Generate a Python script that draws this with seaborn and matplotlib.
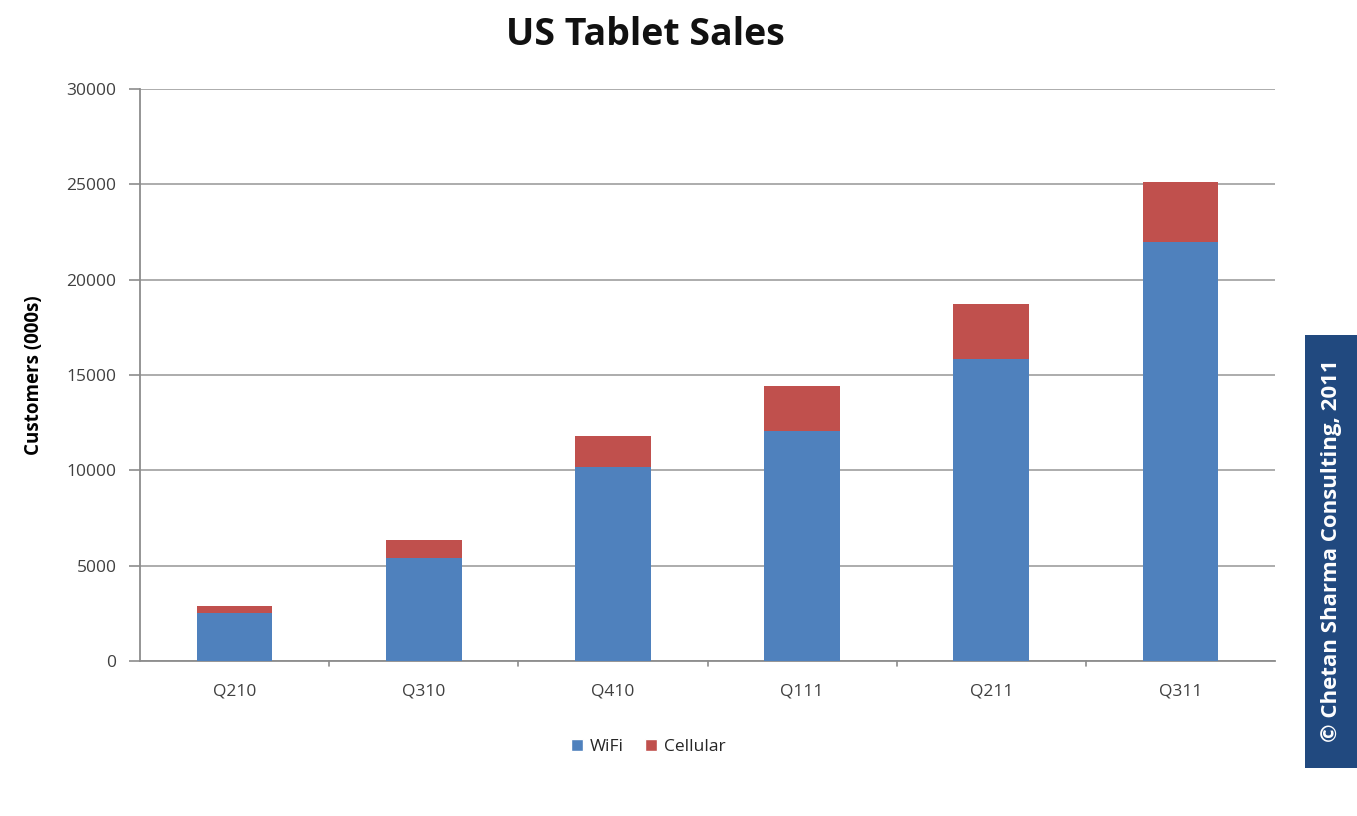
import matplotlib
matplotlib.use("Agg")
import matplotlib.pyplot as plt
import seaborn as sns
import pandas as pd
from matplotlib.patches import Patch, Rectangle

quarters = ["Q210", "Q310", "Q410", "Q111", "Q211", "Q311"]
wifi = [2500, 5400, 10150, 12050, 15850, 22000]
cellular = [400, 950, 1650, 2350, 2850, 3100]
yticks = [0, 5000, 10000, 15000, 20000, 25000, 30000]

totals = [w + c for w, c in zip(wifi, cellular)]
df = pd.DataFrame({"Quarter": quarters, "WiFi": wifi, "Total": totals})

sns.set_theme(style="white")
plt.rcParams["font.family"] = ["Open Sans", "DejaVu Sans"]

BLUE = "#4F81BD"
RED = "#C0504D"
GRID = "#A6A6A6"

fig = plt.figure(figsize=(13.57, 8.16), dpi=100)
ax = fig.add_axes([0.1032, 0.19, 0.8364, 0.7009])

sns.barplot(data=df, x="Quarter", y="Total", color=RED, width=0.4,
            saturation=1, ax=ax, zorder=3, linewidth=0)
sns.barplot(data=df, x="Quarter", y="WiFi", color=BLUE, width=0.4,
            saturation=1, ax=ax, zorder=4, linewidth=0)

ax.set_xlim(-0.5, len(quarters) - 0.5)
ax.set_ylim(0, 30000)
ax.set_yticks(yticks)
ax.set_yticklabels([str(t) for t in yticks], fontsize=12.5, color="#404040")
ax.set_xticks(range(len(quarters)))
ax.set_xticklabels(quarters, fontsize=12.5, color="#404040")
ax.tick_params(axis="x", length=0, pad=16)
ax.tick_params(axis="y", length=8, width=1.2, color="#8C8C8C", direction="out",
               left=True, pad=9)
# category boundary ticks on x axis
for b in [i + 0.5 for i in range(len(quarters) - 1)]:
    ax.plot([b, b], [0, -0.009], transform=ax.get_xaxis_transform(),
            color="#8C8C8C", lw=1.2, clip_on=False, zorder=5)

ax.yaxis.grid(True, color=GRID, lw=1.3, zorder=0)
ax.set_axisbelow(True)
for s in ["top", "right"]:
    ax.spines[s].set_visible(False)
ax.spines["left"].set_color("#8C8C8C")
ax.spines["left"].set_linewidth(1.3)
ax.spines["bottom"].set_color("#8C8C8C")
ax.spines["bottom"].set_linewidth(1.3)

ax.set_xlabel("")
ax.set_ylabel("Customers (000s)", fontsize=13.5, fontweight="bold", color="#000000",
              labelpad=16)

fig.text(645 / 1357, 1 - 35 / 816, "US Tablet Sales", ha="center", va="center",
         fontsize=27, fontweight="bold", color="#111111")

handles = [Patch(facecolor=BLUE, label="WiFi"), Patch(facecolor=RED, label="Cellular")]
fig.legend(handles=handles, loc="center", bbox_to_anchor=(648 / 1357, 1 - 747 / 816),
           ncol=2, frameon=False, fontsize=12.5, handlelength=0.7, handleheight=0.7,
           handletextpad=0.4, columnspacing=1.2)

# copyright box on the right
box = Rectangle((1305 / 1357, 1 - 768 / 816), 52 / 1357, 433 / 816,
                transform=fig.transFigure, facecolor="#21497F", edgecolor="none",
                zorder=1)
fig.patches.append(box)
fig.text(1331 / 1357, 1 - 551 / 816, "\u00a9 Chetan Sharma Consulting, 2011",
         rotation=90, ha="center", va="center", color="white", fontsize=16,
         fontweight="bold")

fig.savefig("out.png", dpi=100)
